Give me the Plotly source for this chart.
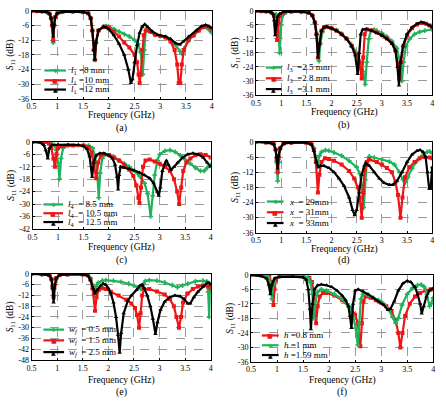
import plotly.graph_objects as go

# ---------------- DATA ----------------
# (a) l1 variation
a_f_8 = [0.5,0.6,0.7,0.8,0.85,0.88,0.9,0.92,0.94,0.96,1.0,1.1,1.3,1.5,1.6,1.65,1.68,1.71,1.73,1.75,1.8,1.9,1.95,
         2.0,2.1,2.2,2.3,2.4,2.5,2.57,2.62,2.66,2.69,2.72,2.75,2.8,2.9,3.0,3.1,3.2,3.3,3.38,3.42,3.46,3.55,3.65,3.75,3.85,3.9,3.95,4.0]
a_s_8 = [0,-0.1,-0.2,-0.5,-1.2,-3,-6,-13,-6,-2.5,-1,-0.4,-0.3,-0.5,-1,-3,-8,-16,-20,-13,-8,-6.5,-6.3,
         -6.5,-7.5,-8.5,-9.5,-10.5,-12,-13.5,-17,-26,-16,-8,-7.5,-8.5,-9.8,-10.3,-10.8,-12,-14,-16.5,-17.5,-15.5,-12,-10,-8,-6.5,-6.8,-7.8,-9]
a_f_10 = [0.5,0.6,0.7,0.8,0.85,0.88,0.9,0.92,0.94,0.96,1.0,1.1,1.3,1.5,1.6,1.65,1.68,1.71,1.73,1.75,1.8,1.9,1.95,
          2.0,2.1,2.2,2.3,2.4,2.5,2.55,2.58,2.6,2.62,2.65,2.68,2.72,2.8,2.9,3.0,3.1,3.2,3.28,3.33,3.36,3.39,3.42,3.46,3.55,3.65,3.75,3.85,3.9,4.0]
a_s_10 = [0,-0.1,-0.2,-0.5,-1.2,-3,-6,-12,-6,-2.5,-1,-0.4,-0.3,-0.5,-1,-3,-8,-16,-20,-13,-8,-6.5,-6.5,
          -7,-8.5,-10.5,-13,-15,-18,-21,-26,-29.5,-26,-16,-10,-8,-8.5,-9.8,-10.3,-10.8,-12.5,-16,-22,-29.5,-29.5,-22,-16,-12,-10,-8,-6.5,-6.3,-7.5]
a_f_12 = [0.5,0.6,0.7,0.8,0.85,0.88,0.9,0.92,0.94,0.96,1.0,1.1,1.3,1.5,1.6,1.65,1.68,1.71,1.73,1.75,1.8,1.9,1.95,
          2.0,2.1,2.2,2.3,2.38,2.43,2.46,2.5,2.55,2.6,2.65,2.7,2.75,2.85,2.95,3.1,3.2,3.3,3.38,3.45,3.55,3.7,3.8,3.88,3.95,4.0]
a_s_12 = [0,-0.1,-0.2,-0.5,-1.2,-3,-5.5,-10.5,-5.5,-2.5,-1,-0.4,-0.3,-0.5,-1,-3,-8,-16,-20,-13,-8,-6.5,-6.8,
          -7.5,-10,-13.5,-18,-24,-29.5,-28,-21,-14,-9,-6.5,-5.5,-6.5,-8.5,-9.8,-10.5,-11.5,-13.3,-13.8,-12.5,-10.5,-8,-6.3,-5.8,-6.3,-7]

# (b) l3 variation
b_f_25 = [0.5,0.6,0.7,0.8,0.9,0.94,0.97,1.0,1.03,1.1,1.2,1.4,1.55,1.62,1.67,1.71,1.75,1.78,1.82,1.87,1.92,2.0,2.1,2.2,2.3,2.4,2.5,2.58,2.63,2.67,2.7,2.74,2.78,2.85,2.9,3.0,3.1,3.2,3.3,3.36,3.4,3.43,3.48,3.55,3.65,3.75,3.85,4.0]
b_s_25 = [0,-0.1,-0.2,-0.6,-1.5,-5,-18,-6,-2,-0.6,-0.3,-0.4,-0.8,-2,-5,-10,-21.5,-14,-9,-7,-6.8,-7.3,-8.3,-9.8,-11.8,-14.5,-18,-22,-26,-31.5,-22,-12,-8.5,-8,-8.5,-9.5,-11,-13,-16,-22,-30,-22,-15,-12,-10,-9,-8.5,-8]
b_f_28 = [0.5,0.6,0.7,0.8,0.86,0.89,0.92,0.95,0.98,1.05,1.2,1.4,1.55,1.62,1.67,1.7,1.735,1.76,1.8,1.85,1.9,2.0,2.1,2.2,2.3,2.4,2.5,2.55,2.6,2.63,2.66,2.7,2.8,2.9,3.0,3.1,3.2,3.27,3.32,3.35,3.38,3.43,3.5,3.6,3.7,3.8,3.88,3.95,4.0]
b_s_28 = [0,-0.1,-0.2,-0.6,-2,-6,-12.5,-5,-2,-0.7,-0.3,-0.4,-0.8,-2,-5,-10,-20,-14,-8.5,-7,-6.8,-7.5,-8.5,-10,-12,-15,-19,-22,-29,-20,-10,-8,-8.3,-9.3,-10.3,-11.8,-13.8,-17,-23,-29,-22,-15,-10.5,-7.5,-5.8,-5.2,-5.5,-6.3,-6.8]
b_f_31 = [0.5,0.6,0.7,0.8,0.84,0.86,0.88,0.9,0.93,0.97,1.05,1.2,1.4,1.55,1.62,1.67,1.7,1.73,1.76,1.8,1.85,1.9,2.0,2.1,2.2,2.3,2.4,2.47,2.52,2.55,2.58,2.62,2.7,2.8,2.9,3.0,3.1,3.2,3.27,3.31,3.34,3.37,3.42,3.5,3.6,3.7,3.78,3.85,3.95,4.0]
b_s_31 = [0,-0.1,-0.2,-0.6,-1.5,-4,-10.5,-6,-2.5,-1.2,-0.5,-0.3,-0.4,-0.8,-2,-5,-10,-20,-14,-8.5,-7,-6.8,-7.5,-8.5,-10,-12,-15,-19,-27,-18,-10,-8,-7.8,-8.5,-9.5,-10.5,-12,-14,-17,-24,-32,-22,-15,-10,-7,-5.5,-4.8,-5.2,-6.3,-7]

# (c) l4 variation
c_f_85 = [0.5,0.7,0.85,0.93,0.97,1.0,1.03,1.06,1.1,1.2,1.4,1.6,1.68,1.73,1.77,1.8,1.83,1.87,1.93,2.0,2.1,2.2,2.3,2.4,2.5,2.6,2.7,2.76,2.82,2.86,2.9,2.95,3.0,3.1,3.2,3.3,3.4,3.5,3.6,3.7,3.8,3.87,3.93,4.0]
c_s_85 = [0,-0.2,-0.5,-1.5,-4,-10,-18,-8,-3,-1.8,-1.5,-1.8,-3,-7,-15,-27,-15,-8,-6,-6.5,-7.5,-9,-10.5,-12,-14,-16.5,-20,-25,-36,-26,-16,-9,-6,-4.3,-4,-4.8,-6.5,-8.5,-10.5,-12.5,-14,-14,-12.5,-11]
c_f_105 = [0.5,0.7,0.82,0.87,0.91,0.94,0.97,1.0,1.1,1.3,1.5,1.6,1.66,1.7,1.75,1.79,1.84,1.9,2.0,2.1,2.2,2.3,2.4,2.48,2.54,2.58,2.6,2.63,2.67,2.72,2.8,2.9,3.0,3.1,3.2,3.28,3.34,3.38,3.42,3.46,3.52,3.6,3.7,3.8,3.9,4.0]
c_s_105 = [0,-0.2,-0.8,-3,-8,-12,-6,-3,-2,-1.7,-1.8,-2.5,-5,-10,-17.5,-10,-6.5,-5.8,-6.3,-7.5,-9,-11,-13.5,-16.5,-21,-27,-29.5,-22,-12,-9,-8.5,-9.5,-10.5,-12,-14,-18,-24,-30,-22,-14,-10,-8,-6.5,-6,-6.3,-7.5]
c_f_125 = [0.5,0.65,0.72,0.76,0.8,0.83,0.88,1.0,1.2,1.4,1.5,1.57,1.62,1.67,1.7,1.75,1.82,1.9,2.0,2.07,2.12,2.16,2.18,2.2,2.23,2.3,2.4,2.5,2.6,2.7,2.8,2.88,2.95,2.98,3.01,3.05,3.1,3.13,3.17,3.22,3.28,3.35,3.45,3.55,3.65,3.75,3.85,3.93,4.0]
c_s_125 = [0,-0.3,-1.5,-4,-8,-3,-1.5,-1.3,-1.3,-1.5,-2,-3.5,-7,-17,-10,-6.5,-5.5,-5.5,-6.5,-8,-11,-17,-23,-16,-12,-12.5,-13,-13.8,-14.8,-16,-17.5,-20,-24,-26,-22,-14,-10.5,-9,-11,-13.5,-12,-10,-7.5,-6,-5.5,-6,-7.5,-10,-12]

# (d) x variation
d_f_29 = [0.5,0.7,0.85,0.89,0.91,0.93,0.95,0.98,1.05,1.2,1.5,1.6,1.65,1.69,1.72,1.76,1.8,1.88,1.95,2.05,2.2,2.35,2.5,2.56,2.6,2.64,2.67,2.7,2.75,2.85,3.0,3.15,3.25,3.35,3.42,3.47,3.52,3.6,3.7,3.8,3.9,3.95,4.0]
d_s_29 = [0,-0.2,-0.8,-3,-8,-15.5,-8,-2.5,-0.6,-0.3,-0.3,-0.8,-2.5,-6,-9,-5.5,-4,-3.3,-3.5,-4.2,-5.5,-7.5,-10,-12.5,-17,-26,-15,-8,-5.8,-6.2,-7,-7.8,-9,-12,-15,-16,-14,-10.5,-7.5,-5.5,-4,-3.8,-4.5]
d_f_31 = [0.5,0.7,0.85,0.89,0.91,0.93,0.95,0.98,1.05,1.2,1.5,1.6,1.65,1.69,1.73,1.76,1.8,1.87,1.95,2.05,2.2,2.35,2.45,2.52,2.56,2.6,2.63,2.66,2.7,2.75,2.9,3.0,3.1,3.2,3.27,3.32,3.37,3.41,3.46,3.55,3.65,3.75,3.85,3.95,4.0]
d_s_31 = [0,-0.2,-0.8,-3,-7,-12,-6.5,-2.5,-0.6,-0.3,-0.3,-0.8,-3,-8,-20,-13,-8,-6.5,-6.8,-7.5,-9,-11.5,-14.5,-18,-22,-30,-20,-11,-8,-7,-8,-9,-10.3,-12,-16,-21,-30,-22,-14,-10,-8,-6.5,-6,-6.2,-6.5]
d_f_33 = [0.5,0.7,0.85,0.89,0.91,0.93,0.95,0.98,1.05,1.2,1.5,1.6,1.65,1.7,1.74,1.78,1.85,1.95,2.05,2.15,2.25,2.35,2.42,2.46,2.5,2.55,2.6,2.65,2.68,2.75,2.85,2.95,3.05,3.15,3.22,3.3,3.4,3.5,3.6,3.7,3.76,3.82,3.87,3.91,3.94,3.97,3.99,4.0]
d_s_33 = [0,-0.2,-0.8,-3,-6,-10.5,-5.5,-2.5,-0.6,-0.3,-0.3,-1,-3.5,-8,-10,-9.5,-9.5,-10.3,-12,-14.5,-17.5,-22,-27,-29,-27,-20,-13,-9.5,-8.5,-9.5,-12,-14.5,-16.3,-17,-17,-15.5,-12,-8,-5,-3.5,-3.2,-4,-6,-12,-18.5,-18.5,-12,-10]

# (e) wf variation
e_f_05 = [0.5,0.7,0.85,0.89,0.91,0.93,0.95,0.98,1.05,1.2,1.5,1.6,1.65,1.69,1.72,1.76,1.8,1.88,1.95,2.1,2.25,2.4,2.5,2.58,2.64,2.68,2.72,2.8,2.95,3.1,3.25,3.35,3.45,3.55,3.7,3.85,3.92,3.95,3.97,3.99,4.0]
e_s_05 = [0,-0.2,-0.8,-3,-7,-12,-6,-2.5,-0.6,-0.3,-0.3,-0.8,-2.5,-6,-11.5,-7,-5,-3.8,-3.5,-3.8,-4.5,-5.5,-6.5,-7.5,-8.5,-6,-4,-3.5,-3.8,-4.8,-6.3,-7.5,-6.5,-5.5,-4.2,-3.8,-4.2,-10,-24,-10,-6]
e_f_15 = [0.5,0.7,0.85,0.89,0.91,0.93,0.95,0.98,1.05,1.2,1.5,1.6,1.65,1.69,1.74,1.77,1.81,1.88,1.95,2.05,2.2,2.35,2.45,2.52,2.56,2.6,2.63,2.66,2.7,2.8,2.95,3.1,3.2,3.28,3.33,3.38,3.42,3.46,3.55,3.65,3.75,3.85,3.95,4.0]
e_s_15 = [0,-0.2,-0.8,-3,-7.5,-13,-6.5,-2.5,-0.6,-0.3,-0.3,-0.8,-3,-8,-20.5,-13,-9,-8,-8.5,-10,-12,-14.5,-16.5,-19,-23,-30,-22,-12,-8.5,-8.5,-9.8,-11.5,-14,-18,-24,-30,-24,-16,-11,-8.5,-7,-6.5,-7,-8]
e_f_25 = [0.5,0.7,0.85,0.89,0.91,0.93,0.95,0.98,1.05,1.2,1.5,1.6,1.65,1.7,1.74,1.78,1.85,1.9,1.95,2.0,2.05,2.1,2.15,2.19,2.22,2.25,2.3,2.38,2.45,2.55,2.62,2.66,2.7,2.76,2.82,2.87,2.92,2.96,3.02,3.1,3.2,3.3,3.4,3.48,3.55,3.6,3.67,3.75,3.85,3.93,3.97,4.0]
e_s_25 = [0,-0.2,-0.8,-3,-8,-16,-8,-2.5,-0.6,-0.3,-0.3,-1,-3.5,-8,-11,-9,-6.5,-5.5,-6,-8,-11,-16,-24,-34,-44,-33,-22,-15,-12,-9,-6.5,-6,-8,-12,-18,-25,-33.5,-27,-20,-15.5,-13,-12,-12.5,-14,-16.5,-16.5,-13,-10,-7,-5,-5,-6]

# (f) h variation
f_f_08 = [0.5,0.7,0.85,0.89,0.91,0.93,0.95,0.98,1.05,1.2,1.5,1.62,1.67,1.71,1.75,1.78,1.82,1.88,1.95,2.1,2.25,2.4,2.5,2.55,2.6,2.63,2.66,2.7,2.8,2.9,3.0,3.1,3.2,3.28,3.33,3.37,3.41,3.46,3.55,3.65,3.75,3.85,3.95,4.0]
f_s_08 = [0,-0.3,-0.8,-3,-6,-12.5,-6,-2,-0.6,-0.3,-0.5,-1.2,-3,-8,-20,-13,-9,-7.5,-7.5,-8.5,-10.5,-13.5,-16.5,-20,-29.5,-20,-11,-9,-9.5,-10.5,-11.5,-13,-15,-19,-24,-30,-24,-17,-12,-9,-7.5,-6.5,-6,-6]
f_f_10 = [0.5,0.7,0.83,0.87,0.9,0.93,0.97,1.05,1.2,1.5,1.6,1.64,1.68,1.71,1.74,1.78,1.85,1.95,2.1,2.25,2.38,2.46,2.51,2.55,2.58,2.61,2.65,2.75,2.85,2.95,3.05,3.15,3.22,3.28,3.33,3.4,3.5,3.6,3.7,3.77,3.83,3.88,3.93,3.96,4.0]
f_s_10 = [0,-0.3,-1,-3.5,-10,-4,-1.5,-0.6,-0.3,-0.5,-1.2,-3,-8,-18,-11,-7,-6,-6.5,-8,-10,-13,-17,-22,-29,-20,-10,-8,-8.5,-9.5,-10.5,-12,-14.5,-17.5,-20,-18,-12.5,-8,-5.5,-4.3,-4,-5,-8,-13,-12,-9.5]
f_f_159 = [0.5,0.7,0.8,0.84,0.87,0.9,0.95,1.05,1.3,1.5,1.56,1.6,1.63,1.65,1.68,1.72,1.78,1.85,1.95,2.05,2.15,2.25,2.32,2.37,2.4,2.43,2.46,2.5,2.56,2.65,2.75,2.85,2.95,3.05,3.13,3.18,3.25,3.33,3.42,3.5,3.57,3.65,3.7,3.75,3.78,3.82,3.87,3.93,4.0]
f_s_159 = [0,-0.5,-1.5,-4,-8,-4,-1.5,-0.8,-0.7,-1,-2,-6,-14,-22.5,-12,-6,-4.3,-4,-4.3,-5,-6.5,-8.5,-10.5,-13,-17,-22,-12,-6.5,-6,-6.8,-8,-9.5,-11,-12.5,-14.5,-14,-11,-6.5,-3.5,-2.5,-3,-5,-8,-12,-16,-13,-9,-6.5,-5.5]

# tick labels
x_ticks = [0.5, 1, 1.5, 2, 2.5, 3, 3.5, 4]
x_ticklabels = ["0.5", "1", "1.5", "2", "2.5", "3", "3.5", "4"]
y_ticks_36 = [0, -6, -12, -18, -24, -30, -36]
y_ticks_42 = [0, -6, -12, -18, -24, -30, -36, -42]
y_ticks_48 = [0, -6, -12, -18, -24, -30, -36, -42, -48]

# legend labels
a_labels = ["<i>l</i><sub>1</sub> =8\u00a0mm", "<i>l</i><sub>1</sub> =10\u00a0mm", "<i>l</i><sub>1</sub> =12\u00a0mm"]
b_labels = ["<i>l</i><sub>3</sub>\u00a0\u00a0=2.5\u00a0mm", "<i>l</i><sub>3</sub>\u00a0\u00a0=2.8\u00a0mm", "<i>l</i><sub>3</sub>\u00a0\u00a0=3.1\u00a0mm"]
c_labels = ["<i>l</i><sub>4</sub>\u00a0\u00a0=\u00a08.5\u00a0mm", "<i>l</i><sub>4</sub>\u00a0\u00a0=\u00a010.5\u00a0mm", "<i>l</i><sub>4</sub>\u00a0\u00a0=\u00a012.5\u00a0mm"]
d_labels = ["<i>x</i>\u00a0\u00a0=\u00a029mm", "<i>x</i>\u00a0\u00a0=\u00a031mm", "<i>x</i>\u00a0\u00a0=\u00a033mm"]
e_labels = ["<i>w<sub>f</sub></i>\u00a0\u00a0=\u00a00.5\u00a0mm", "<i>w<sub>f</sub></i>\u00a0\u00a0=\u00a01.5\u00a0mm", "<i>w<sub>f</sub></i>\u00a0\u00a0=\u00a02.5\u00a0mm"]
f_labels = ["<i>h</i> =0.8\u00a0mm", "<i>h</i> =1\u00a0mm", "<i>h</i> =1.59\u00a0mm"]
captions = ["(a)", "(b)", "(c)", "(d)", "(e)", "(f)"]

# ---------------- STYLE ----------------
W, H = 446, 406
GREEN = "#1db35a"
RED = "#f01414"
BLACK = "#000000"
STY = {
    "g": dict(color=GREEN, symbol="cross", char="\u271a"),
    "r": dict(color=RED, symbol="square", char="\u25a0"),
    "k": dict(color=BLACK, symbol="triangle-up", char="\u25b2"),
}
SERIF = "Liberation Serif"

# pixel boxes of each plot area: (x0, x1, ytop, ybottom)
boxes = [
    (27, 210, 7, 97),
    (255, 434, 7, 93),
    (28, 209, 141, 230),
    (255, 434, 141, 234),
    (27, 209, 276, 364),
    (250, 435, 277, 366),
]
panels = [
    dict(series=[(a_f_8, a_s_8, "g"), (a_f_10, a_s_10, "r"), (a_f_12, a_s_12, "k")],
         labels=a_labels, yt=y_ticks_36,
         leg=dict(lx0=40, lx1=62, tx=65, rows=[68, 78, 87.5]), cap=(118, 127), xt=114),
    dict(series=[(b_f_25, b_s_25, "g"), (b_f_28, b_s_28, "r"), (b_f_31, b_s_31, "k")],
         labels=b_labels, yt=y_ticks_36,
         leg=dict(lx0=265, lx1=281, tx=284, rows=[65, 76, 87]), cap=(345, 124), xt=111),
    dict(series=[(c_f_85, c_s_85, "g"), (c_f_105, c_s_105, "r"), (c_f_125, c_s_125, "k")],
         labels=c_labels, yt=y_ticks_42,
         leg=dict(lx0=39, lx1=59, tx=62, rows=[205, 214, 223]), cap=(118, 262), xt=249),
    dict(series=[(d_f_29, d_s_29, "g"), (d_f_31, d_s_31, "r"), (d_f_33, d_s_33, "k")],
         labels=d_labels, yt=y_ticks_36,
         leg=dict(lx0=266, lx1=283, tx=286, rows=[202, 213, 224]), cap=(345, 262), xt=251),
    dict(series=[(e_f_05, e_s_05, "g"), (e_f_15, e_s_15, "r"), (e_f_25, e_s_25, "k")],
         labels=e_labels, yt=y_ticks_48,
         leg=dict(lx0=39, lx1=60, tx=63, rows=[333, 344, 356]), cap=(118, 397), xt=385),
    dict(series=[(f_f_08, f_s_08, "r"), (f_f_10, f_s_10, "g"), (f_f_159, f_s_159, "k")],
         labels=f_labels, yt=y_ticks_48[:7],
         leg=dict(lx0=261, lx1=278, tx=281, rows=[339, 349, 359]), cap=(343, 397), xt=385),
]

fig = go.Figure()
layout = dict(width=W, height=H, margin=dict(l=0, r=0, t=0, b=0),
              paper_bgcolor="white", plot_bgcolor="white", showlegend=False,
              font=dict(family=SERIF, size=8, color="black"))
shapes, annots = [], []

for i, (p, box) in enumerate(zip(panels, boxes)):
    n = i + 1
    xa = "xaxis" if n == 1 else f"xaxis{n}"
    ya = "yaxis" if n == 1 else f"yaxis{n}"
    xr = "x" if n == 1 else f"x{n}"
    yr = "y" if n == 1 else f"y{n}"
    x0, x1, yt, yb = box
    ymin = p["yt"][-1]
    layout[xa] = dict(domain=[x0 / W, x1 / W], anchor=yr, range=[0.5, 4],
                      tickvals=x_ticks, ticktext=x_ticklabels, showgrid=True,
                      gridcolor="#9a9a9a", griddash="dash", gridwidth=0.7,
                      showline=True, linecolor="black", linewidth=1, mirror=True,
                      ticks="inside", ticklen=2, tickcolor="black",
                      tickfont=dict(size=8, family=SERIF), zeroline=False)
    layout[ya] = dict(domain=[1 - yb / H, 1 - yt / H], anchor=xr, range=[ymin, 0],
                      tickvals=p["yt"], ticktext=[str(v) for v in p["yt"]], showgrid=True,
                      gridcolor="#9a9a9a", griddash="dash", gridwidth=0.7,
                      showline=True, linecolor="black", linewidth=1, mirror=True,
                      ticks="inside", ticklen=2, tickcolor="black",
                      tickfont=dict(size=8, family=SERIF), zeroline=False,
                      title=dict(text="<i>S</i><sub>11</sub> (dB)", font=dict(size=9.5, family=SERIF), standoff=2))
    for fx, sy, key in p["series"]:
        st = STY[key]
        fig.add_trace(go.Scatter(x=fx, y=sy, xaxis=xr, yaxis=yr, mode="lines+markers",
                                 line=dict(color=st["color"], width=2.2),
                                 marker=dict(symbol=st["symbol"], size=4, color=st["color"]),
                                 showlegend=False))
    # custom compact legend
    lg = p["leg"]
    for (fx, sy, key), lab, row in zip(p["series"], p["labels"], lg["rows"]):
        st = STY[key]
        yy = 1 - row / H
        shapes.append(dict(type="line", xref="paper", yref="paper",
                           x0=lg["lx0"] / W, x1=lg["lx1"] / W, y0=yy, y1=yy,
                           line=dict(color=st["color"], width=2.2)))
        annots.append(dict(xref="paper", yref="paper", x=(lg["lx0"] + lg["lx1"]) / 2 / W, y=yy,
                           text=st["char"], showarrow=False, xanchor="center", yanchor="middle",
                           font=dict(family="DejaVu Sans", size=6, color=st["color"])))
        annots.append(dict(xref="paper", yref="paper", x=lg["tx"] / W, y=yy, text=lab,
                           showarrow=False, xanchor="left", yanchor="middle",
                           font=dict(family=SERIF, size=9, color="black")))
    # x title and caption
    cx = (x0 + x1) / 2
    annots.append(dict(xref="paper", yref="paper", x=cx / W, y=1 - p["xt"] / H, text="Frequency (GHz)",
                       showarrow=False, xanchor="center", yanchor="middle",
                       font=dict(family=SERIF, size=9.5, color="black")))
    annots.append(dict(xref="paper", yref="paper", x=cx / W, y=1 - p["cap"][1] / H, text=captions[i],
                       showarrow=False, xanchor="center", yanchor="middle",
                       font=dict(family=SERIF, size=10, color="black")))

layout["shapes"] = shapes
layout["annotations"] = annots
fig.update_layout(**layout)
fig.write_html("out.html")
